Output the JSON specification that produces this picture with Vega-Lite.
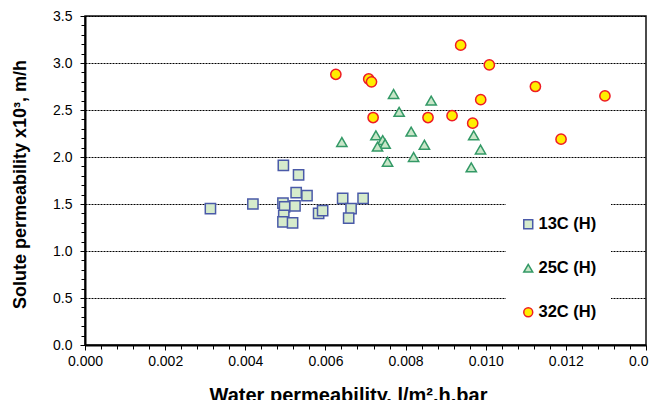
{
  "$schema": "https://vega.github.io/schema/vega-lite/v6.json",
  "autosize": "none",
  "width": 561,
  "height": 329,
  "padding": {"left": 85, "top": 16, "right": 3, "bottom": 55},
  "background": "white",
  "config": {
    "view": {"stroke": "#111", "strokeWidth": 1.5},
    "font": "Liberation Sans",
    "legend": {"labelFont": "Liberation Sans", "labelFontSize": 16.5, "labelFontWeight": "bold", "labelColor": "#000", "labelOffset": 2, "symbolSize": 80, "symbolStrokeWidth": 1.5, "rowPadding": 27, "padding": 14, "fillColor": "white"}
  },
  "data": {
    "values": [
      {"series": "13C (H)", "x": 0.00313, "y": 1.45},
      {"series": "13C (H)", "x": 0.00419, "y": 1.50},
      {"series": "13C (H)", "x": 0.00495, "y": 1.91},
      {"series": "13C (H)", "x": 0.00533, "y": 1.81},
      {"series": "13C (H)", "x": 0.00494, "y": 1.51},
      {"series": "13C (H)", "x": 0.00498, "y": 1.47},
      {"series": "13C (H)", "x": 0.00496, "y": 1.38},
      {"series": "13C (H)", "x": 0.00494, "y": 1.31},
      {"series": "13C (H)", "x": 0.00518, "y": 1.30},
      {"series": "13C (H)", "x": 0.00527, "y": 1.62},
      {"series": "13C (H)", "x": 0.00524, "y": 1.48},
      {"series": "13C (H)", "x": 0.00554, "y": 1.59},
      {"series": "13C (H)", "x": 0.00583, "y": 1.40},
      {"series": "13C (H)", "x": 0.00593, "y": 1.43},
      {"series": "13C (H)", "x": 0.00643, "y": 1.56},
      {"series": "13C (H)", "x": 0.00664, "y": 1.45},
      {"series": "13C (H)", "x": 0.00658, "y": 1.35},
      {"series": "13C (H)", "x": 0.00694, "y": 1.56},
      {"series": "25C (H)", "x": 0.00641, "y": 2.16},
      {"series": "25C (H)", "x": 0.00770, "y": 2.67},
      {"series": "25C (H)", "x": 0.00864, "y": 2.60},
      {"series": "25C (H)", "x": 0.00784, "y": 2.48},
      {"series": "25C (H)", "x": 0.00726, "y": 2.23},
      {"series": "25C (H)", "x": 0.00743, "y": 2.18},
      {"series": "25C (H)", "x": 0.00749, "y": 2.14},
      {"series": "25C (H)", "x": 0.00730, "y": 2.11},
      {"series": "25C (H)", "x": 0.00814, "y": 2.27},
      {"series": "25C (H)", "x": 0.00847, "y": 2.13},
      {"series": "25C (H)", "x": 0.00755, "y": 1.95},
      {"series": "25C (H)", "x": 0.00820, "y": 2.00},
      {"series": "25C (H)", "x": 0.00970, "y": 2.23},
      {"series": "25C (H)", "x": 0.00987, "y": 2.08},
      {"series": "25C (H)", "x": 0.00964, "y": 1.89},
      {"series": "32C (H)", "x": 0.00626, "y": 2.88},
      {"series": "32C (H)", "x": 0.00708, "y": 2.83},
      {"series": "32C (H)", "x": 0.00715, "y": 2.80},
      {"series": "32C (H)", "x": 0.009375, "y": 3.19},
      {"series": "32C (H)", "x": 0.01009, "y": 2.98},
      {"series": "32C (H)", "x": 0.01124, "y": 2.75},
      {"series": "32C (H)", "x": 0.012975, "y": 2.65},
      {"series": "32C (H)", "x": 0.009875, "y": 2.61},
      {"series": "32C (H)", "x": 0.00719, "y": 2.42},
      {"series": "32C (H)", "x": 0.00856, "y": 2.42},
      {"series": "32C (H)", "x": 0.00916, "y": 2.44},
      {"series": "32C (H)", "x": 0.009675, "y": 2.36},
      {"series": "32C (H)", "x": 0.01188, "y": 2.19}
    ]
  },
  "mark": {"type": "point", "filled": true, "opacity": 1, "strokeWidth": 1.5, "size": 105},
  "encoding": {
    "x": {
      "field": "x", "type": "quantitative",
      "scale": {"domain": [0, 0.014], "nice": false, "zero": false},
      "axis": {
        "title": "Water permeability, l/m².h.bar",
        "titleFont": "Liberation Sans", "titleFontSize": 20, "titleFontWeight": "bold", "titleColor": "#000",
        "titleX": 263, "titleY": 56, "titleBaseline": "alphabetic", "titleAnchor": null,
        "values": [0, 0.0004, 0.0008, 0.0012, 0.0016, 0.002, 0.0024, 0.0028, 0.0032, 0.0036, 0.004, 0.0044, 0.0048, 0.0052, 0.0056, 0.006, 0.0064, 0.0068, 0.0072, 0.0076, 0.008, 0.0084, 0.0088, 0.0092, 0.0096, 0.01, 0.0104, 0.0108, 0.0112, 0.0116, 0.012, 0.0124, 0.0128, 0.0132, 0.0136, 0.014],
        "labelExpr": "abs(datum.value/0.002 - round(datum.value/0.002)) < 1e-6 ? format(datum.value, '.3f') : ''",
        "labelOverlap": false, "labelFlush": false, "labelBound": false,
        "labelFont": "Liberation Sans", "labelFontSize": 14, "labelColor": "#000", "labelPadding": 4,
        "grid": false,
        "domainColor": "#000", "domainWidth": 2,
        "tickColor": "#000", "tickWidth": 1,
        "tickSize": {"condition": {"test": "abs(datum.value/0.002 - round(datum.value/0.002)) < 1e-6", "value": 5}, "value": 4}
      }
    },
    "y": {
      "field": "y", "type": "quantitative",
      "scale": {"domain": [0, 3.5], "nice": false, "zero": false},
      "axis": {
        "title": "Solute permeability x10³, m/h",
        "titleFont": "Liberation Sans", "titleFontSize": 18, "titleFontWeight": "bold", "titleColor": "#000",
        "titleX": -65, "titleY": 168, "titleBaseline": "middle", "titleAlign": "center", "titleAngle": -90, "titleAnchor": null,
        "values": [0, 0.1, 0.2, 0.3, 0.4, 0.5, 0.6, 0.7, 0.8, 0.9, 1, 1.1, 1.2, 1.3, 1.4, 1.5, 1.6, 1.7, 1.8, 1.9, 2, 2.1, 2.2, 2.3, 2.4, 2.5, 2.6, 2.7, 2.8, 2.9, 3, 3.1, 3.2, 3.3, 3.4, 3.5],
        "labelExpr": "abs(datum.value*2 - round(datum.value*2)) < 1e-6 ? format(datum.value, '.1f') : ''",
        "labelOverlap": false, "labelFlush": false, "labelBound": false,
        "labelFont": "Liberation Sans", "labelFontSize": 14, "labelColor": "#000", "labelPadding": 8,
        "grid": true, "gridColor": "#000", "gridDash": [2, 1], "gridWidth": 1,
        "gridOpacity": {"condition": {"test": "abs(datum.value*2 - round(datum.value*2)) < 1e-6", "value": 1}, "value": 0},
        "domainColor": "#000", "domainWidth": 2,
        "tickColor": "#000", "tickWidth": 1,
        "tickSize": {"condition": {"test": "abs(datum.value*2 - round(datum.value*2)) < 1e-6", "value": 5}, "value": 4}
      }
    },
    "shape": {
      "field": "series", "type": "nominal",
      "scale": {"domain": ["13C (H)", "25C (H)", "32C (H)"], "range": ["square", "triangle-up", "circle"]},
      "legend": {"title": null, "orient": "none", "legendX": 421, "legendY": 186}
    },
    "fill": {
      "field": "series", "type": "nominal",
      "scale": {"domain": ["13C (H)", "25C (H)", "32C (H)"], "range": ["#d6ebcc", "#c8e6c8", "#ffee00"]},
      "legend": {"title": null, "orient": "none", "legendX": 421, "legendY": 186}
    },
    "stroke": {
      "field": "series", "type": "nominal",
      "scale": {"domain": ["13C (H)", "25C (H)", "32C (H)"], "range": ["#4a5aa8", "#339966", "#ee1c24"]},
      "legend": {"title": null, "orient": "none", "legendX": 421, "legendY": 186}
    }
  }
}
